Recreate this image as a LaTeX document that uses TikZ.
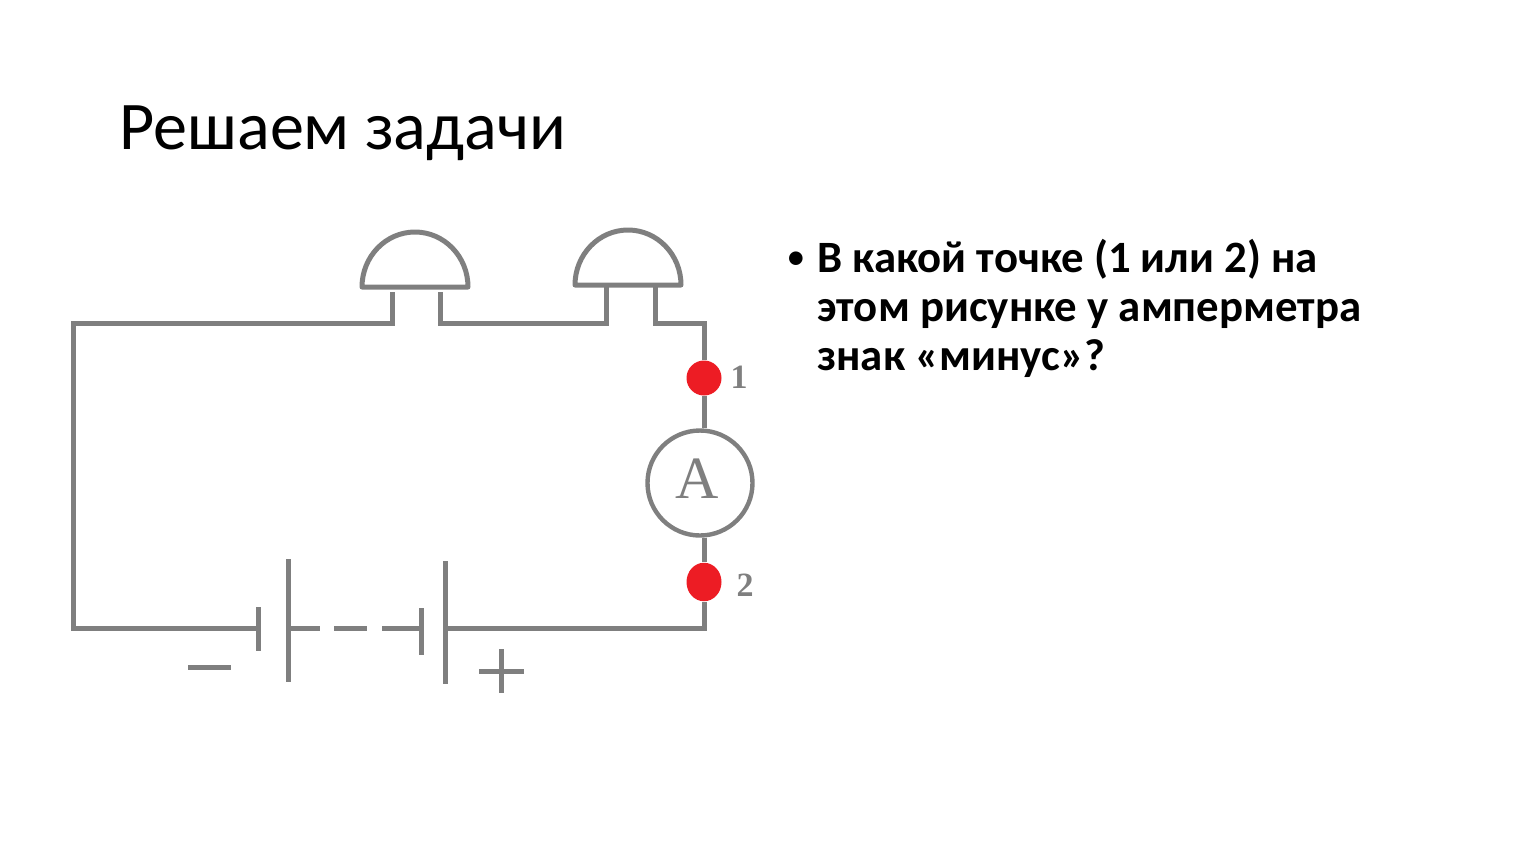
\documentclass[tikz,border=0pt]{standalone}
\usepackage{fontspec}
\setmainfont{Carlito}
\usetikzlibrary{positioning}
\definecolor{wiregray}{HTML}{7F7F7F}
\definecolor{dotred}{HTML}{ED1C24}
\tikzset{
	wire/.style = {draw = wiregray, line width = 2.5pt, line cap = butt, line join = miter},
	lamp/.style = {wire, line join = round},
	contact/.style = {circle, fill = dotred, inner sep = 0pt, minimum size = 17.5pt},
	meter/.style = {circle, draw = wiregray, line width = 2.2pt, fill = white, inner sep = 0pt, minimum size = 52.5pt},
	pointlabel/.style = {font = \fontspec{Liberation Serif}\bfseries\fontsize{17}{17}\selectfont, text = wiregray},
}
\begin{document}
\begin{tikzpicture}[x = 0.5pt, y = -0.5pt]
	\useasboundingbox (0, 0) rectangle (1533, 864);

	\node [anchor = base west, inner sep = 0pt, font = \fontsize{34.1}{34.1}\selectfont] (title) at (119, 149) {Решаем задачи};
	\node [anchor = base west, inner sep = 0pt, font = \fontsize{19.2}{19.2}\selectfont] (bullet) at (786, 269) {•};
	\node [anchor = base west, inner sep = 0pt, align = left, font = \bfseries\fontsize{22.4}{24.4pt}\selectfont] (question) at (817, 370)
		{В какой точке (1 или 2) на\\этом рисунке у амперметра\\знак «минус»?};

	% corners of the circuit
	\coordinate (NW) at (73, 323);
	\coordinate (SW) at (73, 628);
	\coordinate (NE) at (704, 323);
	\coordinate (SE) at (704, 628);

	% lamps
	\draw [lamp] (362, 287) arc (180:360:53 and 55) -- cycle;
	\draw [lamp] (575, 285) arc (180:360:53 and 55) -- cycle;
	\coordinate (lamp1in) at (392, 292);
	\coordinate (lamp1out) at (440, 292);
	\coordinate (lamp2in) at (606, 285);
	\coordinate (lamp2out) at (655, 285);

	% meter and contacts
	\node [meter] (ammeter) at (700, 483) {};
	\node [text = wiregray, font = \fontspec{Liberation Serif}\fontsize{30}{30}\selectfont, inner sep = 0pt] (Aletter) at (697, 479) {A};
	\node [contact] (dot1) at (704, 378) {};
	\node [contact, yscale = 1.1] (dot2) at (704, 582) {};
	\node [pointlabel] (label1) at (739, 377) {1};
	\node [pointlabel] (label2) at (745, 585) {2};

	% battery plates
	\coordinate (plateAtop) at (258, 607);
	\coordinate (plateAbot) at (258, 651);
	\coordinate (plateBtop) at (288, 559);
	\coordinate (plateBbot) at (288, 682);
	\coordinate (plateCtop) at (421, 608);
	\coordinate (plateCbot) at (421, 655);
	\coordinate (plateDtop) at (445, 561);
	\coordinate (plateDbot) at (445, 684);
	\draw [wire] (plateAtop) -- (plateAbot);
	\draw [wire] (plateBtop) -- (plateBbot);
	\draw [wire] (plateCtop) -- (plateCbot);
	\draw [wire] (plateDtop) -- (plateDbot);

	% wires
	\draw [wire] (plateAtop |- SW) -- (SW) -- (NW) -- (lamp1in |- NW) -- (lamp1in);
	\draw [wire] (lamp1out) -- (lamp1out |- NW) -- (lamp2in |- NW) -- (lamp2in);
	\draw [wire] (lamp2out) -- (lamp2out |- NE) -- (NE) -- (dot1);
	\draw [wire] (dot1) -- (NE |- ammeter.north);
	\draw [wire] (NE |- ammeter.south) -- (dot2);
	\draw [wire] (dot2) -- (SE) -- (plateDtop |- SE);
	\draw [wire] (plateBtop |- SW) -- (320, 628);
	\draw [wire] (334, 628) -- (367, 628);
	\draw [wire] (382, 628) -- (plateCtop |- SW);

	% polarity signs
	\draw [wire] (188, 667) -- (231, 667);
	\draw [wire] (479, 671) -- (524, 671);
	\draw [wire] (501, 649) -- (501, 693);
\end{tikzpicture}
\end{document}
